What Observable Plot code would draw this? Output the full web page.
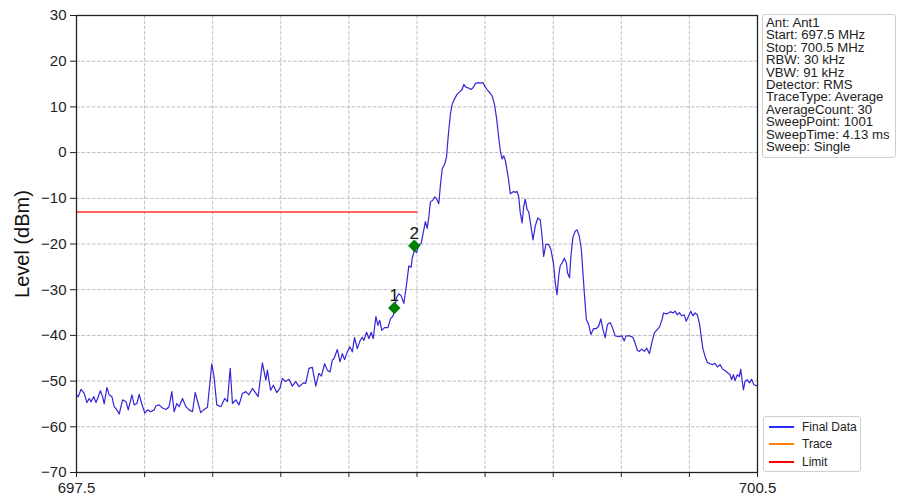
<!DOCTYPE html>
<html>
<head>
<meta charset="utf-8">
<script src="https://cdn.jsdelivr.net/npm/d3@7"></script>
<script src="https://cdn.jsdelivr.net/npm/@observablehq/plot@0.6"></script>
<style>
  html, body { margin: 0; padding: 0; background: #fff; }
  #wrap { position: relative; width: 899px; height: 502px; font-family: "Liberation Sans", Arial, sans-serif; }
  #info { position: absolute; left: 762px; top: 14px; width: 132px; height: 142px; border: 1px solid #cfcfcf; border-radius: 3px; background: #fff; color: #222; overflow: hidden; }
  #info .txt { position: absolute; left: 3px; top: 2px; font-size: 12px; line-height: 12.4px; white-space: nowrap; transform: scaleX(1.1); transform-origin: 0 0; }
  #legend { position: absolute; left: 763px; top: 416px; width: 96px; height: 54px; border: 1px solid #cfcfcf; border-radius: 3px; background: #fff; font-size: 12px; color: #222; }
  .li { position: absolute; left: 0; height: 14px; }
  .li span.sw { position: absolute; left: 5px; top: 6px; width: 25px; height: 0; border-top: 2px solid; }
  .li span.tx { position: absolute; left: 38px; top: 0; line-height: 14px; white-space: nowrap; }
</style>
</head>
<body>
<div id="wrap"></div>
<script>
// ---- data ----
const freqMHz = [
  697.500, 697.502, 697.508, 697.520, 697.534, 697.546, 697.556, 697.564, 697.576, 697.586,
  697.593, 697.605, 697.615, 697.622, 697.634, 697.644, 697.656, 697.666, 697.678, 697.688,
  697.703, 697.718, 697.728, 697.744, 697.754, 697.766, 697.776, 697.787, 697.801, 697.813,
  697.827, 697.842, 697.850, 697.864, 697.879, 697.894, 697.908, 697.920, 697.930, 697.942,
  697.952, 697.967, 697.982, 697.996, 698.011, 698.023, 698.036, 698.047, 698.062, 698.077,
  698.096, 698.106, 698.118, 698.136, 698.153, 698.165, 698.177, 698.187, 698.202, 698.216,
  698.231, 698.246, 698.260, 698.275, 698.285, 698.300, 698.319, 698.334, 698.341, 698.355,
  698.367, 698.382, 698.396, 698.407, 698.421, 698.436, 698.451, 698.466, 698.480,
  698.488, 698.499, 698.510, 698.524, 698.539, 698.554, 698.568, 698.579, 698.593, 698.605,
  698.617, 698.627, 698.634, 698.649, 698.661, 698.671, 698.681, 698.693, 698.704, 698.715,
  698.725, 698.737, 698.749, 698.759, 698.766, 698.778, 698.788, 698.798, 698.807, 698.819,
  698.828, 698.836, 698.845, 698.857, 698.872, 698.883, 698.895, 698.910, 698.920, 698.930,
  698.942, 698.954, 698.964, 698.974,
  698.979, 698.989, 698.998, 699.008, 699.018, 699.027, 699.037, 699.045, 699.052, 699.059,
  699.070, 699.078, 699.086, 699.096, 699.103, 699.111, 699.122, 699.130, 699.137, 699.147,
  699.155, 699.165, 699.177, 699.188, 699.199, 699.206, 699.216, 699.228, 699.238, 699.247,
  699.257, 699.269, 699.279, 699.291, 699.298, 699.309, 699.320, 699.331, 699.341, 699.350,
  699.360, 699.367, 699.375, 699.382, 699.389, 699.397, 699.404, 699.411,
  699.426, 699.433, 699.441, 699.448, 699.455, 699.463, 699.470, 699.477, 699.485, 699.492,
  699.502, 699.511, 699.521, 699.532, 699.543, 699.551, 699.558, 699.568, 699.580, 699.590,
  699.602, 699.609, 699.617, 699.624, 699.631, 699.641, 699.649, 699.658, 699.663, 699.672,
  699.678, 699.687, 699.697, 699.705, 699.715, 699.724, 699.731, 699.737, 699.746, 699.756,
  699.766, 699.778, 699.790, 699.800, 699.810, 699.819, 699.829, 699.839, 699.851, 699.861,
  699.873, 699.888, 699.902, 699.913, 699.921, 699.936,
  699.951, 699.961, 699.971, 699.980, 699.990, 700.001, 700.012, 700.024, 700.034, 700.045,
  700.057, 700.068, 700.079, 700.086, 700.098, 700.108, 700.118, 700.127, 700.137, 700.147,
  700.156, 700.166, 700.177, 700.186, 700.196, 700.206, 700.215, 700.225, 700.235, 700.244,
  700.252, 700.259, 700.269, 700.279, 700.291, 700.303, 700.313, 700.323, 700.335, 700.347,
  700.357, 700.367, 700.379, 700.386, 700.394, 700.401, 700.411, 700.420, 700.426, 700.432,
  700.438, 700.445, 700.455, 700.464, 700.474, 700.484, 700.496, 700.500
];
const levelDbm = [
  -53.0, -53.2, -53.4, -51.8, -52.7, -54.7, -53.8, -54.5, -53.4, -54.7,
  -53.8, -52.1, -53.4, -55.0, -51.4, -53.0, -53.4, -55.6, -56.3, -57.2,
  -54.1, -54.5, -56.3, -53.0, -55.2, -54.9, -52.9, -54.9, -57.0, -56.3,
  -56.7, -56.3, -55.4, -55.2, -55.9, -56.2, -55.6, -52.3, -56.7, -54.9,
  -55.6, -53.8, -55.6, -56.3, -56.7, -52.5, -54.9, -56.9, -56.2, -55.7,
  -46.2, -49.1, -55.2, -55.6, -53.8, -54.5, -47.2, -54.9, -54.1, -55.2,
  -52.7, -52.3, -53.0, -51.6, -52.3, -53.4, -46.0, -49.8, -47.6, -52.0,
  -50.9, -52.5, -51.6, -49.4, -50.1, -49.6, -51.1, -50.1, -51.2,
  -50.9, -50.4, -50.5, -47.2, -47.0, -51.1, -48.3, -48.9, -46.2, -47.6,
  -48.0, -45.4, -45.1, -43.1, -45.8, -44.0, -45.3, -43.6, -42.5, -43.6,
  -40.5, -42.9, -41.2, -40.4, -41.1, -39.3, -40.7, -39.3, -40.7, -35.9,
  -37.8, -36.7, -38.9, -38.3, -38.3, -36.4, -35.7, -31.7, -30.9, -31.3,
  -33.0, -28.8, -24.8, -25.1,
  -23.1, -21.3, -21.9, -20.2, -19.9, -17.7, -15.1, -16.6, -14.1, -10.8,
  -10.4, -9.7, -10.1, -11.2, -7.2, -3.6, -2.5, -1.0, 3.3, 8.4,
  10.6, 11.7, 12.8, 13.3, 13.8, 14.9, 14.3, 14.1, 13.8, 14.2,
  15.1, 15.3, 15.2, 15.3, 14.6, 13.8, 13.1, 12.4, 10.6, 7.7,
  3.3, 0.4, -1.4, -0.7, -1.7, -3.9, -6.1, -9.0,
  -8.5, -8.7, -8.5, -9.6, -13.2, -15.4, -11.8, -10.2, -12.5, -12.9,
  -16.1, -19.1, -16.1, -14.3, -14.7, -18.3, -22.7, -20.1, -20.1, -21.2,
  -24.5, -28.5, -31.1, -27.1, -24.7, -24.0, -23.1, -24.1, -26.3, -27.4,
  -22.7, -18.5, -17.2, -16.9, -18.3, -21.2, -26.3, -30.7, -36.5, -37.6,
  -39.8, -38.5, -38.5, -38.0, -36.4, -38.7, -40.5, -37.6, -37.2, -38.3,
  -40.1, -40.3, -40.1, -41.2, -40.1, -40.1,
  -40.4, -41.7, -43.3, -43.5, -43.0, -43.5, -42.8, -44.0, -41.7, -39.5,
  -38.8, -38.2, -36.6, -35.1, -35.3, -35.1, -34.8, -35.1, -34.7, -35.5,
  -35.0, -35.7, -35.5, -36.9, -35.8, -34.7, -35.7, -35.1, -35.5, -37.3,
  -40.2, -42.8, -44.6, -45.9, -46.2, -46.4, -46.1, -46.9, -46.4, -47.4,
  -47.7, -48.1, -48.6, -49.7, -48.6, -49.9, -48.6, -49.0, -47.4, -49.7,
  -51.9, -50.1, -49.7, -50.4, -49.6, -50.8, -51.0, -51.1
];
const limitFreq = [697.5, 699.0];
const limitLevel = [-13, -13];
const markerFreq = [698.900, 698.988];
const markerLevel = [-34.0, -20.4];
const markerLabel = ["1", "2"];
const xTicks = [697.5, 697.8, 698.1, 698.4, 698.7, 699.0, 699.3, 699.6, 699.9, 700.2, 700.5];
const xTickLabels = ["697.5", "", "", "", "", "", "", "", "", "", "700.5"];
const yTicks = [-70, -60, -50, -40, -30, -20, -10, 0, 10, 20, 30];
const yTickLabels = ["\u221270", "\u221260", "\u221250", "\u221240", "\u221230", "\u221220", "\u221210", "0", "10", "20", "30"];
const infoLines = ["Ant: Ant1", "Start: 697.5 MHz", "Stop: 700.5 MHz", "RBW: 30 kHz", "VBW: 91 kHz",
  "Detector: RMS", "TraceType: Average", "AverageCount: 30", "SweepPoint: 1001", "SweepTime: 4.13 ms", "Sweep: Single"];
const legendNames = ["Final Data", "Trace", "Limit"];
const legendColors = ["#2b2bff", "#ff7f0e", "#ff0000"];

// ---- tables ----
const trace = freqMHz.map((f, i) => ({f, v: levelDbm[i]}));
const limit = limitFreq.map((f, i) => ({f, v: limitLevel[i]}));
const markers = markerFreq.map((f, i) => ({f, v: markerLevel[i], label: markerLabel[i]}));

const chart = Plot.plot({
  width: 899,
  height: 502,
  marginLeft: 76,
  marginRight: 142,
  marginTop: 15,
  marginBottom: 30,
  x: {domain: [697.5, 700.5]},
  y: {domain: [-70, 30]},
  style: {fontFamily: "'Liberation Sans', Arial, sans-serif", fontSize: "14px", background: "#fff", color: "#222"},
  marks: [
    Plot.gridX(xTicks, {stroke: "#b0b0b0", strokeOpacity: 1, strokeWidth: 0.8, strokeDasharray: "3.7,1.6"}),
    Plot.gridY(yTicks, {stroke: "#b0b0b0", strokeOpacity: 1, strokeWidth: 0.8, strokeDasharray: "3.7,1.6"}),
    Plot.line(limit, {x: "f", y: "v", stroke: "#ff3030", strokeWidth: 1.5}),
    Plot.line(trace, {x: "f", y: "v", stroke: "#3326d6", strokeWidth: 1.2}),
    Plot.dot(markers, {x: "f", y: "v", symbol: "diamond2", r: 5.6, fill: "#008000", stroke: "none"}),
    Plot.text(markers, {x: "f", y: "v", text: "label", dy: -7, lineAnchor: "bottom", fontSize: 17, fill: "#111"}),
    Plot.frame({stroke: "#222", strokeWidth: 1.3}),
    Plot.axisX(xTicks, {tickSize: 5, tickPadding: 5, fontSize: 15, label: null,
      tickFormat: d => xTickLabels[xTicks.indexOf(d)]}),
    Plot.axisY(yTicks, {tickSize: 6, tickPadding: 4, fontSize: 15, label: null,
      tickFormat: d => yTickLabels[yTicks.indexOf(d)]}),
    Plot.text(["Level (dBm)"], {frameAnchor: "left", textAnchor: "middle", rotate: -90, dx: -54, fontSize: 20, fill: "#111"})
  ]
});

const wrap = document.getElementById("wrap");
wrap.appendChild(chart);

const info = document.createElement("div");
info.id = "info";
info.innerHTML = `<div class="txt">${infoLines.map(s => `<div>${s}</div>`).join("")}</div>`;
wrap.appendChild(info);

const legend = document.createElement("div");
legend.id = "legend";
legendNames.forEach((name, i) => {
  const item = document.createElement("div");
  item.className = "li";
  item.style.top = (3 + i * 17.3) + "px";
  item.style.width = "96px";
  item.innerHTML = `<span class="sw" style="border-color:${legendColors[i]}"></span><span class="tx">${name}</span>`;
  legend.appendChild(item);
});
wrap.appendChild(legend);
</script>
</body>
</html>
